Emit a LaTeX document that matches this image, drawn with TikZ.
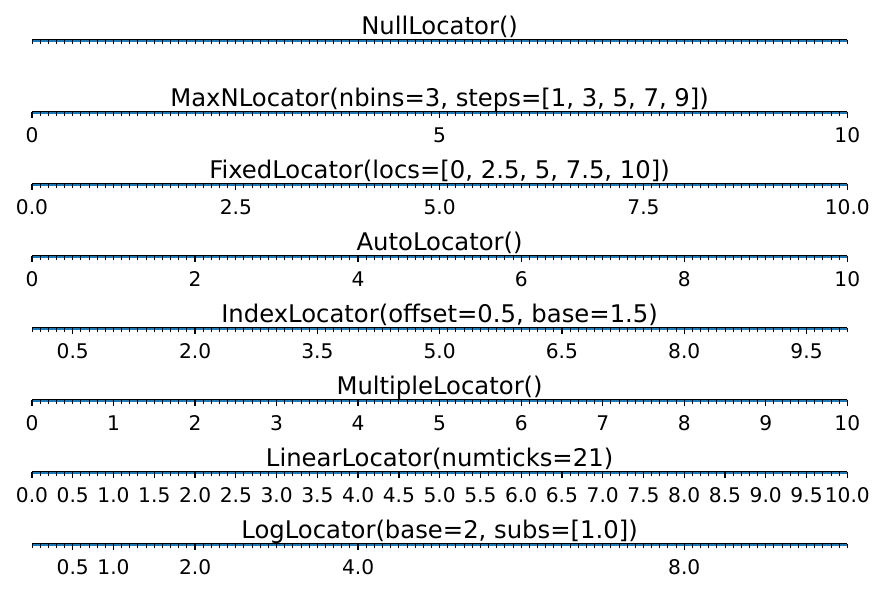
\documentclass[tikz,border=0pt]{standalone}
\usepackage{fontspec}
\setmainfont{DejaVu Sans}
\definecolor{mplblue}{HTML}{1F77B4}
\begin{document}
\begin{tikzpicture}[x=1pt,y=-1pt,
  spine/.style={line width=1.4pt,black},
  dataline/.style={line width=1.1pt,mplblue},
  majortick/.style={line width=1.3pt,black},
  minortick/.style={line width=1pt,black},
  axtitle/.style={font=\fontsize{24.3}{29}\selectfont,anchor=base,inner sep=0pt},
  ticklabel/.style={font=\fontsize{20.2}{24}\selectfont,anchor=base,inner sep=0pt}]
\useasboundingbox (0,0) rectangle (885,594);
\newcommand\locbase[2]{%
  \pgfmathsetmacro\ly{39.7+72*#1}%
  \coordinate (L#1) at (32,\ly);
  \coordinate (R#1) at (847.3,\ly);
  \coordinate (LB#1) at (32,\ly+1.3);
  \coordinate (RB#1) at (847.3,\ly+1.3);
  \draw[dataline] (LB#1) -- (RB#1);
  \draw[spine] (L#1) -- (R#1);
  \foreach \i in {0,...,100}{\draw[minortick] ({32+8.153*\i},\ly) -- ++(0,4.4);}
  \node[axtitle] (title#1) at (439.6,\ly-5.5) {#2};
}
\newcommand\locmajors[2]{%
  \pgfmathsetmacro\ly{39.7+72*#1}%
  \foreach \v/\t [count=\k] in {#2}{%
    \draw[majortick] ({32+81.53*\v},\ly) -- ++(0,6.6);
    \node[ticklabel] (lab#1-\k) at ({32+81.53*\v},\ly+30.5) {\t};
  }
}
\locbase{0}{NullLocator()}
\locbase{1}{MaxNLocator(nbins=3, steps=[1, 3, 5, 7, 9])}
\locmajors{1}{0/0,5/5,10/10}
\locbase{2}{FixedLocator(locs=[0, 2.5, 5, 7.5, 10])}
\locmajors{2}{0/0.0,2.5/2.5,5/5.0,7.5/7.5,10/10.0}
\locbase{3}{AutoLocator()}
\locmajors{3}{0/0,2/2,4/4,6/6,8/8,10/10}
\locbase{4}{IndexLocator(offset=0.5, base=1.5)}
\locmajors{4}{0.5/0.5,2/2.0,3.5/3.5,5/5.0,6.5/6.5,8/8.0,9.5/9.5}
\locbase{5}{MultipleLocator()}
\locmajors{5}{0/0,1/1,2/2,3/3,4/4,5/5,6/6,7/7,8/8,9/9,10/10}
\locbase{6}{LinearLocator(numticks=21)}
\locmajors{6}{0/0.0,0.5/0.5,1/1.0,1.5/1.5,2/2.0,2.5/2.5,3/3.0,3.5/3.5,4/4.0,4.5/4.5,5/5.0,5.5/5.5,6/6.0,6.5/6.5,7/7.0,7.5/7.5,8/8.0,8.5/8.5,9/9.0,9.5/9.5,10/10.0}
\locbase{7}{LogLocator(base=2, subs=[1.0])}
\locmajors{7}{0.5/0.5,1/1.0,2/2.0,4/4.0,8/8.0}
\end{tikzpicture}
\end{document}
